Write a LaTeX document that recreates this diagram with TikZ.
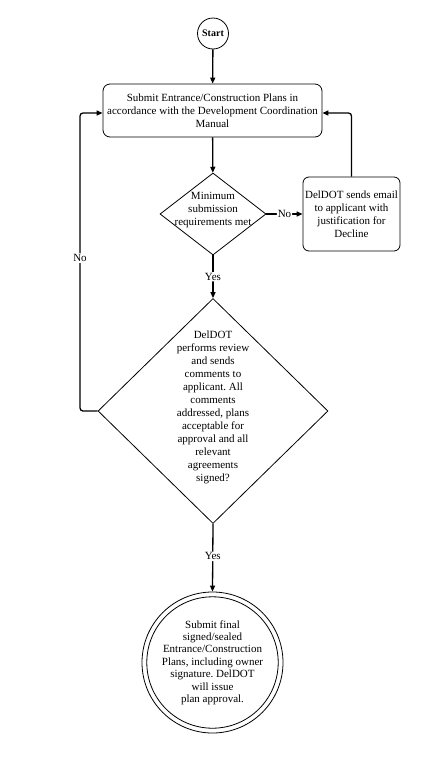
\documentclass[tikz,border=0pt]{standalone}
\usepackage{fontspec}
\setmainfont{Liberation Serif}
\usetikzlibrary{shapes.geometric,arrows.meta}
\frenchspacing
\begin{document}
\begin{tikzpicture}[x=1pt,y=-1pt,
 every node/.style={font=\fontsize{11}{13}\selectfont},
 shp/.style={draw,line width=0.8pt},
 conn/.style={line width=1.3pt,-{Triangle[length=6pt,width=5pt]},rounded corners=3pt},
 lbl/.style={fill=white,inner sep=1pt}]
\useasboundingbox[fill=white] (0,0) rectangle (440,758);
\node[shp,circle,minimum size=31pt,inner sep=0pt,font=\bfseries\fontsize{10}{12}\selectfont] (start) at (213,33.5) {Start};
\node[shp,rounded corners=7pt,minimum width=219pt,minimum height=53pt,align=center,inner sep=0pt] (box1) at (212.5,110.5) {Submit Entrance/Construction Plans in\\accordance with the Development Coordination\\Manual};
\node[shp,diamond,minimum width=106pt,minimum height=82pt,inner sep=0pt] (d1) at (213,214) {};
\node[align=center,inner sep=0pt] (d1t) at (213,210) {Minimum\\submission\\requirements met};
\node[shp,rounded corners=6pt,minimum width=97pt,minimum height=74pt,align=center,inner sep=0pt] (dd) at (351.5,214) {DelDOT sends email\\to applicant with\\justification for\\Decline};
\node[shp,diamond,minimum width=230pt,minimum height=225pt,inner sep=0pt] (d2) at (213,411) {};
\node[align=center,inner sep=0pt] (d2t) at (213,407) {DelDOT\\performs review\\and sends\\comments to\\applicant. All\\comments\\addressed, plans\\acceptable for\\approval and all\\relevant\\agreements\\signed?};
\node[shp,circle,minimum size=141pt,inner sep=0pt] (fin) at (212.5,662.5) {};
\node[shp,circle,minimum size=113pt,inner sep=0pt,align=center,font=\fontsize{11}{12.4}\selectfont] (fint) at (212.5,662.5) {Submit final\\signed/sealed\\Entrance/Construction\\Plans, including owner\\signature. DelDOT\\will issue\\plan approval.};
\coordinate (lc) at (80,113);
\draw[conn] (start) -- (box1);
\draw[conn] (box1) -- (d1);
\draw[conn] (d1.east) -- node[lbl] (no1) {No} (dd.west);
\draw[conn] (dd.north) |- ([yshift=-2.5pt]box1.east);
\draw[conn] (d1.south) -- node[lbl] (yes1) {Yes} (d2.north);
\draw[conn] (d2.west) -| (lc) -- ([yshift=-2.5pt]box1.west);
\node[lbl] (no2) at (80,258) {No};
\draw[conn] (d2.south) -- node[lbl,pos=0.48] (yes2) {Yes} (fin.north);
\end{tikzpicture}
\end{document}
